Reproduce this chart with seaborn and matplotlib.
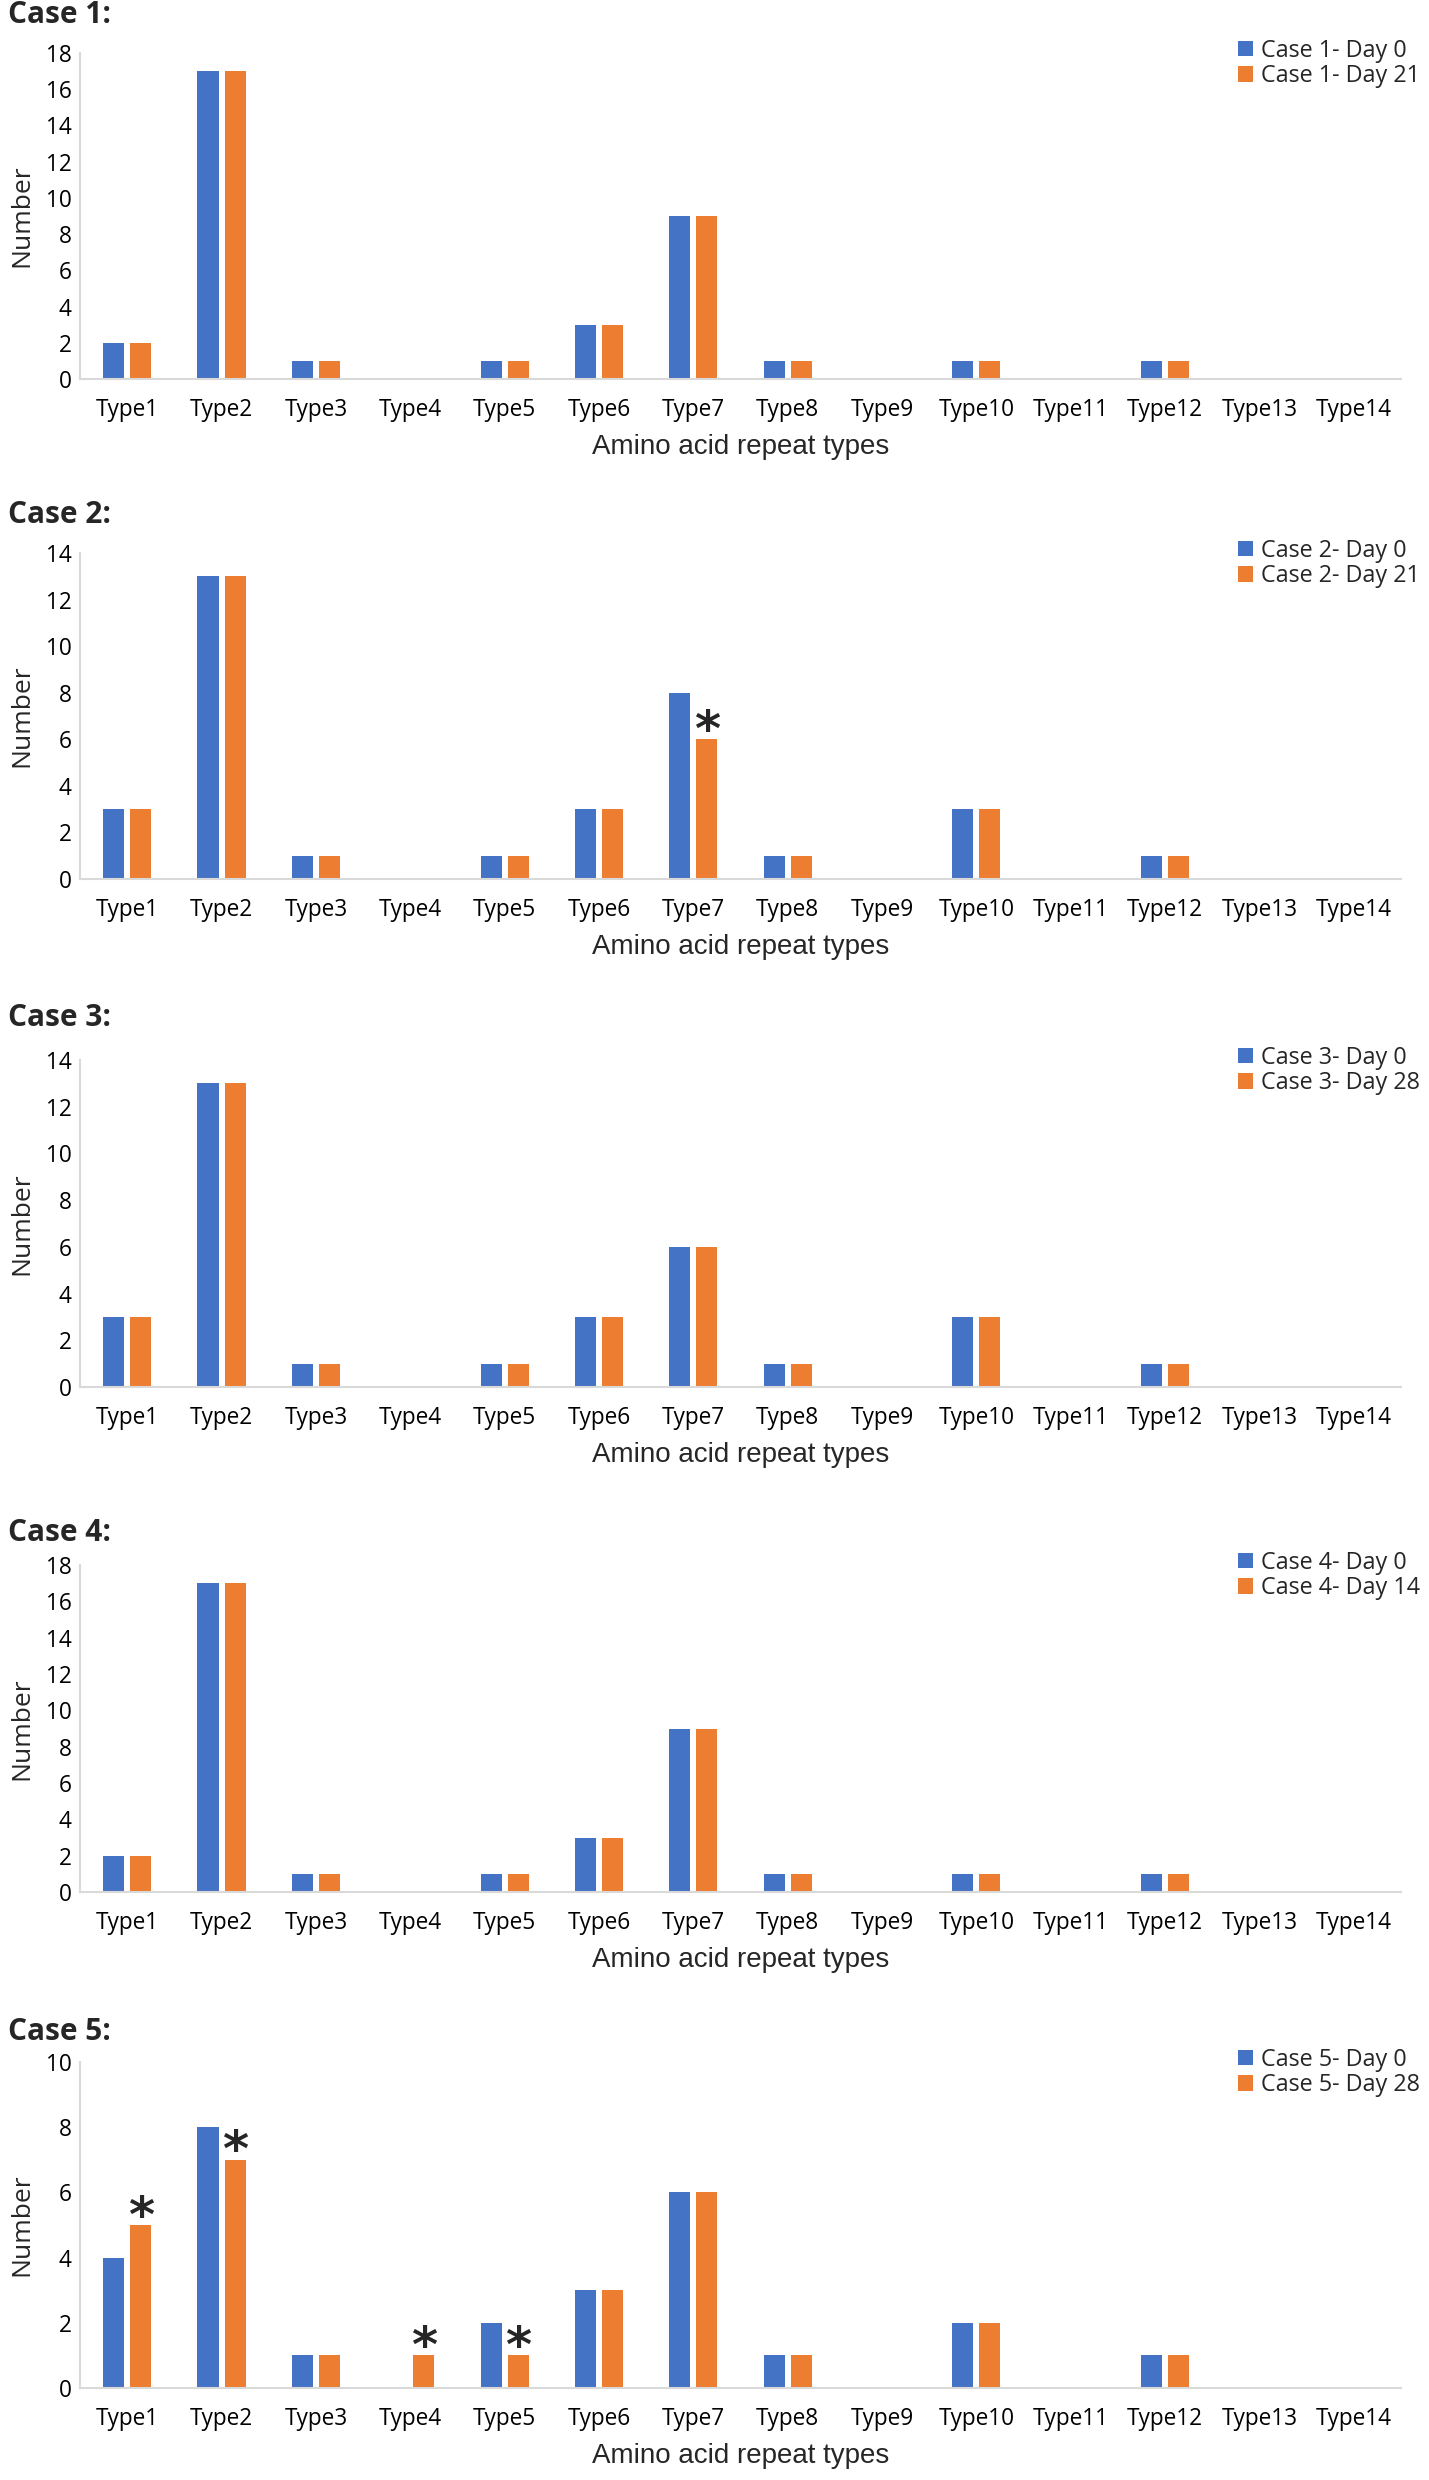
import matplotlib
matplotlib.use('Agg')

import matplotlib.pyplot as plt
import pandas as pd
import seaborn as sns


types = ['Type1', 'Type2', 'Type3', 'Type4', 'Type5', 'Type6', 'Type7',
         'Type8', 'Type9', 'Type10', 'Type11', 'Type12', 'Type13', 'Type14']

case1_day0 = [2, 17, 1, 0, 1, 3, 9, 1, 0, 1, 0, 1, 0, 0]
case1_day21 = [2, 17, 1, 0, 1, 3, 9, 1, 0, 1, 0, 1, 0, 0]

case2_day0 = [3, 13, 1, 0, 1, 3, 8, 1, 0, 3, 0, 1, 0, 0]
case2_day21 = [3, 13, 1, 0, 1, 3, 6, 1, 0, 3, 0, 1, 0, 0]

case3_day0 = [3, 13, 1, 0, 1, 3, 6, 1, 0, 3, 0, 1, 0, 0]
case3_day28 = [3, 13, 1, 0, 1, 3, 6, 1, 0, 3, 0, 1, 0, 0]

case4_day0 = [2, 17, 1, 0, 1, 3, 9, 1, 0, 1, 0, 1, 0, 0]
case4_day14 = [2, 17, 1, 0, 1, 3, 9, 1, 0, 1, 0, 1, 0, 0]

case5_day0 = [4, 8, 1, 0, 2, 3, 6, 1, 0, 2, 0, 1, 0, 0]
case5_day28 = [5, 7, 1, 1, 1, 3, 6, 1, 0, 2, 0, 1, 0, 0]

case_titles = ['Case 1:', 'Case 2:', 'Case 3:', 'Case 4:', 'Case 5:']
first_labels = ['Case 1- Day 0', 'Case 2- Day 0', 'Case 3- Day 0',
                'Case 4- Day 0', 'Case 5- Day 0']
second_labels = ['Case 1- Day 21', 'Case 2- Day 21', 'Case 3- Day 28',
                 'Case 4- Day 14', 'Case 5- Day 28']
first_values = [case1_day0, case2_day0, case3_day0, case4_day0, case5_day0]
second_values = [case1_day21, case2_day21, case3_day28, case4_day14, case5_day28]
y_max = [18, 14, 14, 18, 10]
starred = [[], ['Type7'], [], [], ['Type1', 'Type2', 'Type4', 'Type5']]

BLUE = '#4472C4'
ORANGE = '#ED7D31'
SPINE = '#D9D9D9'

# layout in pixels of the final image
W, H = 1429, 2480
AX_LEFT, AX_RIGHT = 80, 1401
AX_TOPS = [53, 553, 1060, 1565, 2062]
AX_BOTTOMS = [379, 879, 1387, 1892, 2388]
TITLE_Y = [15, 515, 1018, 1533, 2032]
LEGEND_RIGHT = 1420
XLABEL_DROP = 68   # px below the axis line
YLABEL_X = 22      # px from the left edge


def make_frame(day_a, label_a, day_b, label_b):
    return pd.DataFrame({
        'type': types * 2,
        'count': list(day_a) + list(day_b),
        'series': [label_a] * len(types) + [label_b] * len(types),
    })


def draw_case(fig, i):
    top, bottom = AX_TOPS[i], AX_BOTTOMS[i]
    ax_w, ax_h = AX_RIGHT - AX_LEFT, bottom - top
    ax = fig.add_axes([AX_LEFT / W, 1 - bottom / H, ax_w / W, ax_h / H])

    df = make_frame(first_values[i], first_labels[i],
                    second_values[i], second_labels[i])
    sns.barplot(data=df, x='type', y='count', hue='series',
                hue_order=[first_labels[i], second_labels[i]],
                order=types, palette=[BLUE, ORANGE], saturation=1,
                width=0.574, gap=0.22, linewidth=0, ax=ax)

    ax.set_ylim(0, y_max[i])
    ax.set_yticks(range(0, y_max[i] + 1, 2))
    ax.set_xlim(-0.5, len(types) - 0.5)

    for side in ['top', 'right']:
        ax.spines[side].set_visible(False)
    for side in ['left', 'bottom']:
        ax.spines[side].set_color(SPINE)
        ax.spines[side].set_linewidth(1.5)

    ax.tick_params(axis='both', length=0, labelsize=16.3, colors='#000000')
    ax.tick_params(axis='x', pad=13.5)
    ax.tick_params(axis='y', pad=6)

    ax.set_ylabel('Number', fontsize=19)
    ax.yaxis.set_label_coords(-(AX_LEFT - YLABEL_X) / ax_w, 0.5)
    ax.yaxis.label.set_va('center')

    ax.set_xlabel('Amino acid repeat types', fontsize=20,
                  family=['Liberation Sans', 'DejaVu Sans'])
    ax.xaxis.set_label_coords(0.5, -XLABEL_DROP / ax_h)
    ax.xaxis.label.set_va('center')

    # significance marks above the later-day bars
    bars = ax.containers[1]
    for t in starred[i]:
        patch = bars[types.index(t)]
        x = patch.get_x() + patch.get_width() / 2
        ax.annotate('*', (x, patch.get_height()), xytext=(0, -12),
                    textcoords='offset points', ha='center', va='bottom',
                    fontsize=36, fontweight='bold', family=['DejaVu Sans'])

    handles, labels = ax.get_legend_handles_labels()
    ax.legend(handles, labels, loc='upper right',
              bbox_to_anchor=(LEGEND_RIGHT / W, 1 - (top - 14) / H),
              bbox_transform=fig.transFigure, frameon=False, fontsize=16.8,
              handlelength=0.62, handleheight=0.62, handletextpad=0.35,
              labelspacing=0.05, borderaxespad=0, borderpad=0)

    fig.text(8 / W, 1 - TITLE_Y[i] / H, case_titles[i], fontsize=21.5,
             fontweight='bold', va='center', ha='left')


def main():
    sns.set_style('white')
    plt.rcParams['font.family'] = ['Open Sans', 'DejaVu Sans']

    fig = plt.figure(figsize=(W / 100, H / 100), dpi=100)
    fig.patch.set_facecolor('white')

    for i in range(len(case_titles)):
        draw_case(fig, i)

    fig.savefig('out.png', dpi=100, facecolor='white')
    plt.close(fig)


if __name__ == '__main__':
    main()
